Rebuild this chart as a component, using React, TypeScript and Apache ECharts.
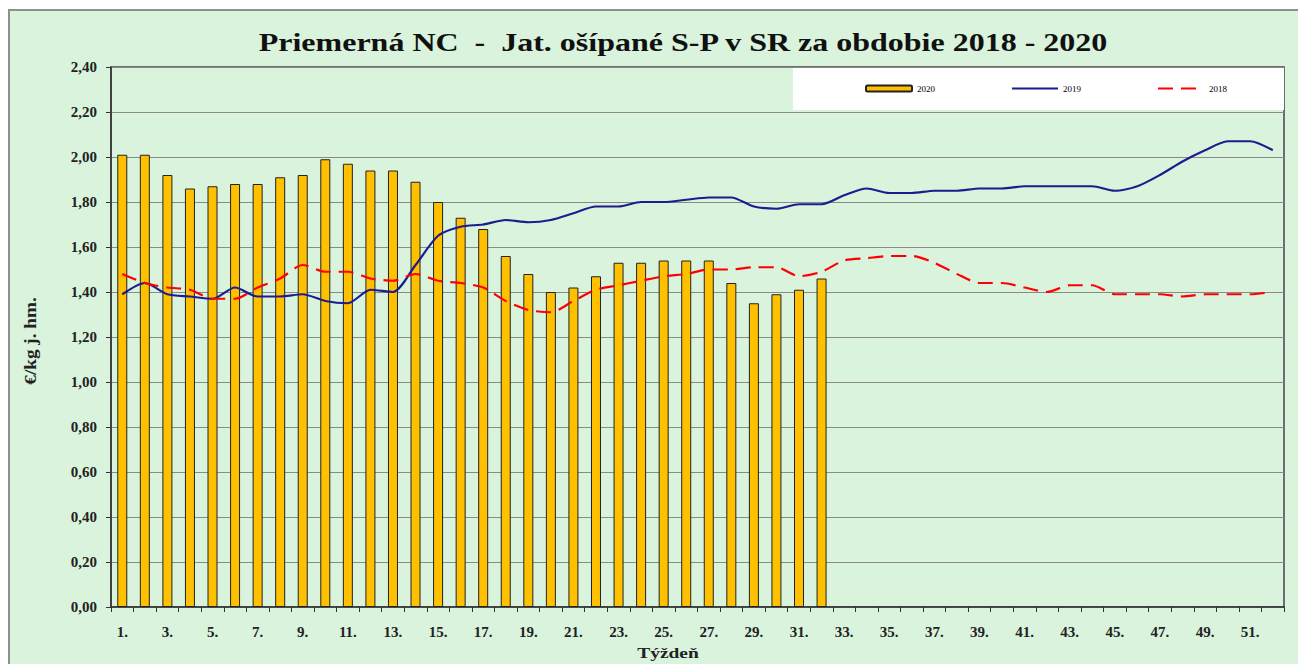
import React, { useEffect, useRef } from "react";
import * as echarts from "echarts";

const TITLE = "Priemerná NC  -  Jat. ošípané S-P v SR za obdobie 2018 - 2020";
const Y_NAME = "€/kg j. hm.";
const X_NAME = "Týždeň";

const weeks = [
  "1.", "2.", "3.", "4.", "5.", "6.", "7.", "8.", "9.", "10.",
  "11.", "12.", "13.", "14.", "15.", "16.", "17.", "18.", "19.", "20.",
  "21.", "22.", "23.", "24.", "25.", "26.", "27.", "28.", "29.", "30.",
  "31.", "32.", "33.", "34.", "35.", "36.", "37.", "38.", "39.", "40.",
  "41.", "42.", "43.", "44.", "45.", "46.", "47.", "48.", "49.", "50.",
  "51.", "52.",
];

const prices2020 = [
  2.01, 2.01, 1.92, 1.86, 1.87, 1.88, 1.88, 1.91, 1.92, 1.99,
  1.97, 1.94, 1.94, 1.89, 1.80, 1.73, 1.68, 1.56, 1.48, 1.40,
  1.42, 1.47, 1.53, 1.53, 1.54, 1.54, 1.54, 1.44, 1.35, 1.39,
  1.41, 1.46,
];

const prices2019 = [
  1.39, 1.44, 1.39, 1.38, 1.37, 1.42, 1.38, 1.38, 1.39, 1.36,
  1.35, 1.41, 1.40, 1.52, 1.65, 1.69, 1.70, 1.72, 1.71, 1.72,
  1.75, 1.78, 1.78, 1.80, 1.80, 1.81, 1.82, 1.82, 1.78, 1.77,
  1.79, 1.79, 1.83, 1.86, 1.84, 1.84, 1.85, 1.85, 1.86, 1.86,
  1.87, 1.87, 1.87, 1.87, 1.85, 1.87, 1.92, 1.98, 2.03, 2.07,
  2.07, 2.03,
];

const prices2018 = [
  1.48, 1.44, 1.42, 1.41, 1.37, 1.37, 1.42, 1.46, 1.52, 1.49,
  1.49, 1.46, 1.45, 1.48, 1.45, 1.44, 1.42, 1.36, 1.32, 1.31,
  1.36, 1.41, 1.43, 1.45, 1.47, 1.48, 1.50, 1.50, 1.51, 1.51,
  1.47, 1.49, 1.54, 1.55, 1.56, 1.56, 1.53, 1.48, 1.44, 1.44,
  1.42, 1.40, 1.43, 1.43, 1.39, 1.39, 1.39, 1.38, 1.39, 1.39,
  1.39, 1.40,
];

const SERIF = "'Liberation Serif', 'Times New Roman', serif";

export default function App() {
  const ref = useRef<HTMLDivElement | null>(null);

  useEffect(() => {
    document.body.style.margin = "0";
    document.body.style.overflow = "hidden";
    if (!ref.current) return;
    const chart = echarts.init(ref.current, undefined, { renderer: "svg" });

    const option: any = {
      animation: false,
      backgroundColor: "#ffffff",
      textStyle: { fontFamily: SERIF },
      graphic: [
        {
          type: "rect",
          z: -10,
          silent: true,
          shape: { x: 9, y: 10, width: 1300, height: 660 },
          style: { fill: "#d9f3dd", stroke: "#8f8f8f", lineWidth: 2 },
        },
        {
          type: "rect",
          z: 1,
          silent: true,
          shape: { x: 793, y: 68, width: 491, height: 42 },
          style: { fill: "#ffffff" },
        },
        {
          type: "text",
          x: 683,
          y: 42,
          scaleX: 1.28,
          z: 5,
          style: {
            text: TITLE,
            fontFamily: SERIF,
            fontWeight: "bold",
            fontSize: 25,
            fill: "#111",
            align: "center",
            verticalAlign: "middle",
            textAlign: "center",
            textVerticalAlign: "middle",
          },
        },
        {
          type: "text",
          x: 31,
          y: 341,
          rotation: Math.PI / 2,
          scaleX: 1.2,
          z: 5,
          style: {
            text: Y_NAME,
            fontFamily: SERIF,
            fontWeight: "bold",
            fontSize: 16,
            fill: "#222",
            align: "center",
            verticalAlign: "middle",
            textAlign: "center",
            textVerticalAlign: "middle",
          },
        },
        {
          type: "text",
          x: 668,
          y: 653,
          scaleX: 1.3,
          z: 5,
          style: {
            text: X_NAME,
            fontFamily: SERIF,
            fontWeight: "bold",
            fontSize: 15,
            fill: "#222",
            align: "center",
            verticalAlign: "middle",
            textAlign: "center",
            textVerticalAlign: "middle",
          },
        },
      ],
      legend: {
        left: 860,
        top: 79,
        itemWidth: 46,
        itemHeight: 6,
        itemGap: 76,
        z: 6,
        textStyle: { fontSize: 9, fontFamily: SERIF, color: "#000" },
        data: [
          { name: "2020" },
          { name: "2019", itemStyle: { opacity: 0 } },
          { name: "2018", itemStyle: { opacity: 0 } },
        ],
      },
      grid: {
        left: 111,
        right: 14,
        top: 67,
        bottom: 57,
        show: true,
        borderColor: "#444",
        borderWidth: 1.5,
        backgroundColor: "transparent",
      },
      xAxis: {
        type: "category",
        data: weeks,
        boundaryGap: true,
        axisLine: { lineStyle: { color: "#333", width: 1.5 } },
        axisTick: { show: true, interval: 0, length: 5, lineStyle: { color: "#333" } },
        axisLabel: {
          interval: 1,
          margin: 17,
          fontSize: 15,
          fontWeight: "bold",
          color: "#222",
          fontFamily: SERIF,
        },
        splitLine: { show: false },
      },
      yAxis: {
        type: "value",
        min: 0,
        max: 2.4,
        interval: 0.2,
        axisLine: { show: true, lineStyle: { color: "#333", width: 1.5 } },
        axisTick: { show: true, length: 5, lineStyle: { color: "#333" } },
        axisLabel: {
          formatter: (v: number) => v.toFixed(2).replace(".", ","),
          margin: 14,
          fontSize: 15,
          fontWeight: "bold",
          color: "#222",
          fontFamily: SERIF,
        },
        splitLine: { lineStyle: { color: "#8a8a8a", width: 1 } },
      },
      series: [
        {
          name: "2020",
          type: "bar",
          data: prices2020,
          barWidth: 10,
          itemStyle: { color: "#FFC000", borderColor: "#222", borderWidth: 1 },
          z: 2,
        },
        {
          name: "2019",
          type: "line",
          data: prices2019,
          symbol: "none",
          smooth: 0.25,
          lineStyle: { color: "#1c1c8e", width: 2.2 },
          itemStyle: { color: "#1c1c8e" },
          z: 3,
        },
        {
          name: "2018",
          type: "line",
          data: prices2018,
          symbol: "none",
          smooth: 0.25,
          lineStyle: { color: "#ff0000", width: 2.2, type: [15, 8] },
          itemStyle: { color: "#ff0000" },
          z: 4,
        },
      ],
    };

    chart.setOption(option);
    return () => {
      chart.dispose();
    };
  }, []);

  return <div ref={ref} style={{ width: 1298, height: 664 }} />;
}
